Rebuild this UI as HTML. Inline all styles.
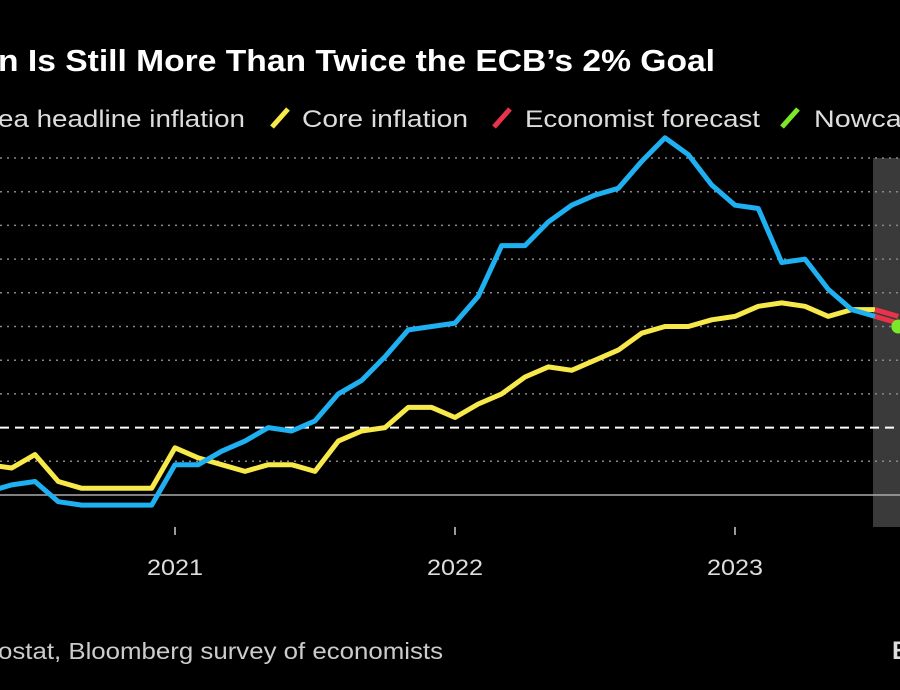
<!DOCTYPE html>
<html><head><meta charset="utf-8"><style>
body{margin:0;background:#000;width:900px;height:690px;overflow:hidden;font-family:"Liberation Sans","DejaVu Sans",sans-serif;}
svg{display:block}
</style></head><body>
<svg width="900" height="690">
<text x="-2" y="71" fill="#fff" font-size="31" font-weight="bold" textLength="717" lengthAdjust="spacingAndGlyphs">n Is Still More Than Twice the ECB’s 2% Goal</text>
<g font-size="24" fill="#ddd">
<text x="-2" y="127" textLength="247" lengthAdjust="spacingAndGlyphs">ea headline inflation</text>
<line x1="272" y1="127" x2="288" y2="109" stroke="#f7e94a" stroke-width="5"/>
<text x="302" y="127" textLength="166" lengthAdjust="spacingAndGlyphs">Core inflation</text>
<line x1="494" y1="127" x2="510" y2="109" stroke="#e8334b" stroke-width="5"/>
<text x="525" y="127" textLength="235" lengthAdjust="spacingAndGlyphs">Economist forecast</text>
<line x1="782" y1="127" x2="798" y2="109" stroke="#7be82a" stroke-width="5"/>
<text x="814" y="127" textLength="110" lengthAdjust="spacingAndGlyphs">Nowcast</text>
</g>
<rect x="873" y="158" width="30" height="369" fill="#3a3a3a"/>
<g id="grid"></g>
<g id="series"></g>
<g id="xaxis" font-size="22" fill="#ddd"></g>
<text x="-2" y="659" fill="#ccc" font-size="23" textLength="445" lengthAdjust="spacingAndGlyphs">ostat, Bloomberg survey of economists</text>
<text x="892" y="659" fill="#ddd" font-size="25" font-weight="bold">B</text>
</svg>
<script>
const headline=[0.1,0.3,0.4,-0.2,-0.3,-0.3,-0.3,-0.3,0.9,0.9,1.3,1.6,2.0,1.9,2.2,3.0,3.4,4.1,4.9,5.0,5.1,5.9,7.4,7.4,8.1,8.6,8.9,9.1,9.9,10.6,10.1,9.2,8.6,8.5,6.9,7.0,6.1,5.5,5.3];
const core=[0.9,0.8,1.2,0.4,0.2,0.2,0.2,0.2,1.4,1.1,0.9,0.7,0.9,0.9,0.7,1.6,1.9,2.0,2.6,2.6,2.3,2.7,3.0,3.5,3.8,3.7,4.0,4.3,4.8,5.0,5.0,5.2,5.3,5.6,5.7,5.6,5.3,5.5,5.5];
const startMonth=-8; // May 2020 relative to Jan 2021
const headlineForecast=[5.3,5.1];
const coreForecast=[5.5,5.3];
const nowcast=[31,5.0];
const gridValues=[1,3,4,5,6,7,8,9,10];
const targetValue=2;
const yearTicks=[2021,2022,2023];
const xS=m=>175+m*23.333;
const yS=v=>495-v*33.7;
const NS='http://www.w3.org/2000/svg';
function mk(t,a,p){const e=document.createElementNS(NS,t);for(const k in a)e.setAttribute(k,a[k]);p.appendChild(e);return e;}
const grid=document.getElementById('grid');
gridValues.forEach(v=>{const l=mk('line',{x1:0,x2:900,y1:yS(v),y2:yS(v),stroke:'#888','stroke-width':1.5,'stroke-dasharray':'2 5'},grid);

});
const tl=mk('line',{x1:0,x2:900,y1:yS(targetValue),y2:yS(targetValue),stroke:'#fff','stroke-width':2,'stroke-dasharray':'9 6'},grid);


const bl=mk('line',{x1:0,x2:900,y1:yS(0),y2:yS(0),stroke:'#aaa','stroke-width':1.5},grid);


const ser=document.getElementById('series');
function line(arr,start,color,name){const pts=arr.map((v,i)=>xS(start+i).toFixed(1)+','+yS(v).toFixed(1)).join(' ');
const p=mk('polyline',{points:pts,fill:'none',stroke:color,'stroke-width':5,'stroke-linejoin':'round'},ser);

}
const lastM=startMonth+headline.length-1;
line(core,startMonth,'#f7e94a','core-inflation-line');
line(headline,startMonth,'#1eb0f0','headline-inflation-line');
line(coreForecast,lastM,'#e8334b','core-forecast-line');
line(headlineForecast,lastM,'#e8334b','headline-forecast-line');
const dot=mk('circle',{cx:xS(nowcast[0]),cy:yS(nowcast[1]),r:7,fill:'#7be82a'},ser);


const xa=document.getElementById('xaxis');
yearTicks.forEach(y=>{const m=(y-2021)*12;
const t=mk('line',{x1:xS(m),x2:xS(m),y1:527,y2:535,stroke:'#ccc','stroke-width':1.5},xa);


const tx=mk('text',{x:xS(m),y:575,'text-anchor':'middle',textLength:56,lengthAdjust:'spacingAndGlyphs'},xa);tx.textContent=y;

});
</script>
</body></html>
